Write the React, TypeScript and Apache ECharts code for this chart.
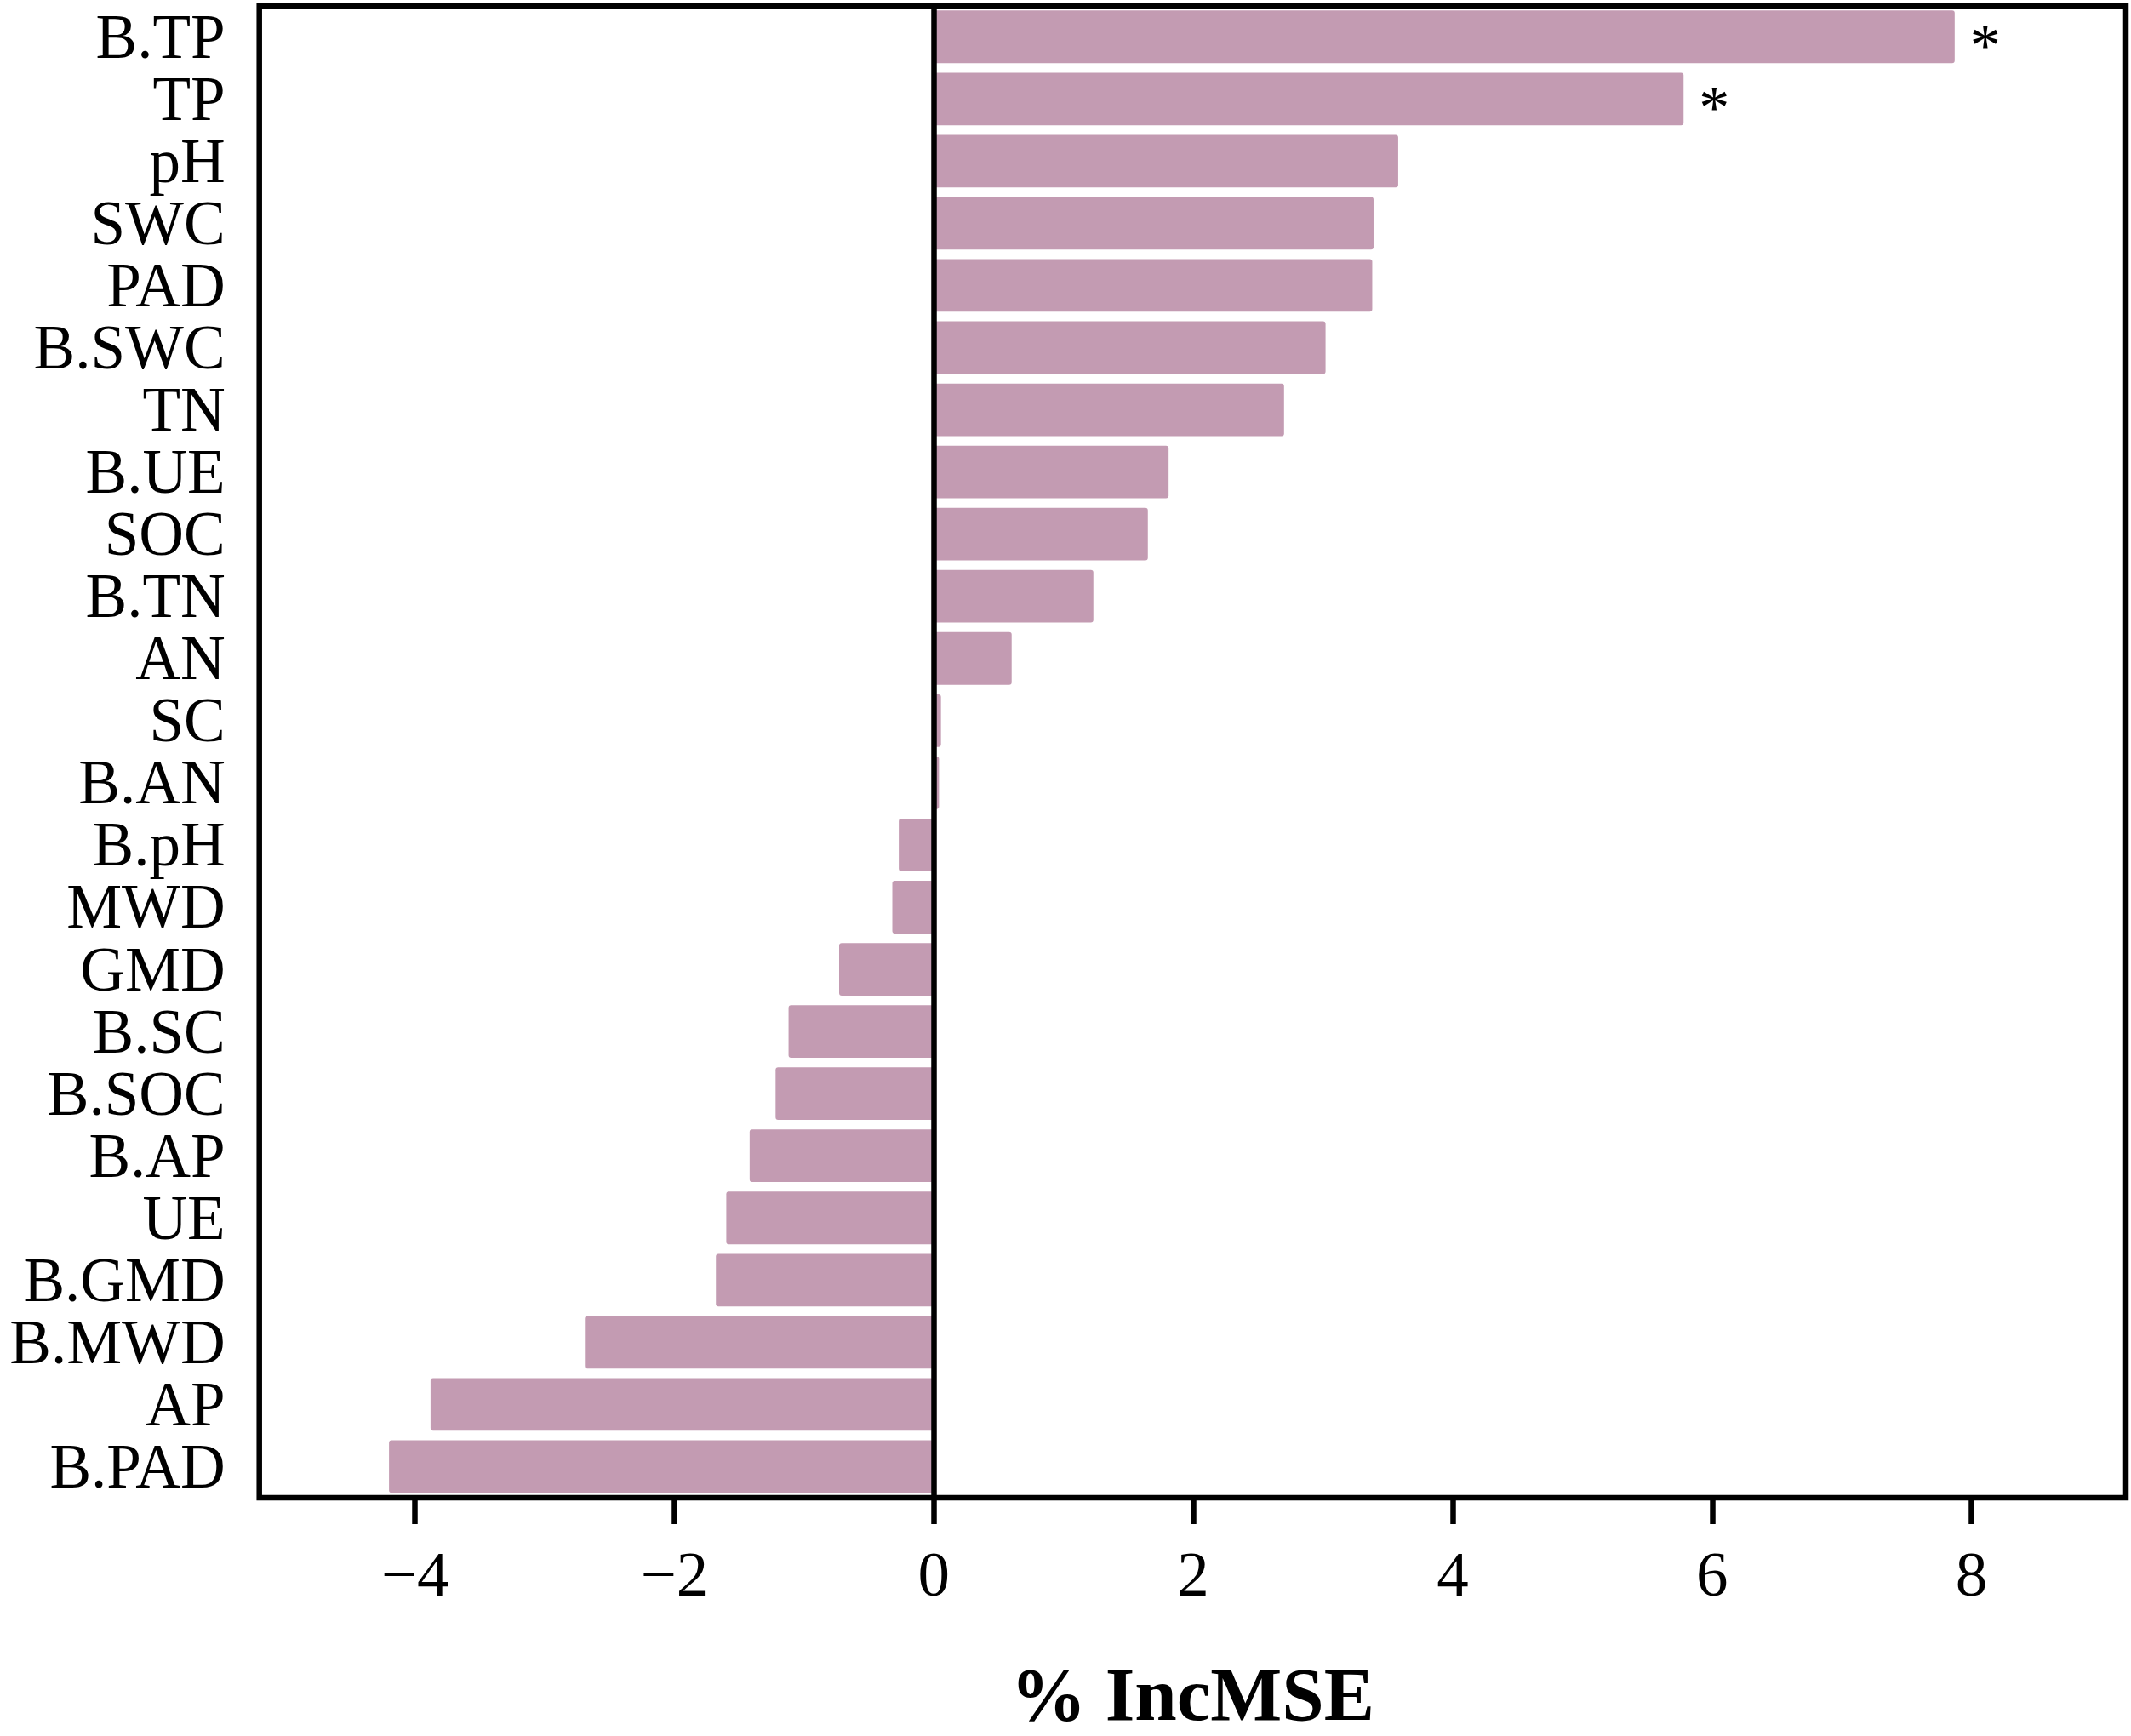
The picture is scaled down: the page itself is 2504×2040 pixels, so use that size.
import React, { useEffect, useRef } from "react";
import * as echarts from "echarts";

const categories = [
  "B.TP", "TP", "pH", "SWC", "PAD", "B.SWC", "TN", "B.UE", "SOC", "B.TN", "AN", "SC",
  "B.AN", "B.pH", "MWD", "GMD", "B.SC", "B.SOC", "B.AP", "UE", "B.GMD", "B.MWD", "AP", "B.PAD",
];
const incMSE = [
  7.87, 5.78, 3.58, 3.39, 3.38, 3.02, 2.70, 1.81, 1.65, 1.23, 0.60, 0.055,
  0.04, -0.27, -0.32, -0.73, -1.12, -1.22, -1.42, -1.60, -1.68, -2.69, -3.88, -4.20,
];
const significant = ["B.TP", "TP"];
const xTicks = [-4, -2, 0, 2, 4, 6, 8];
const xMin = -5.2;
const xMax = 9.19;
const axisTitle = "% IncMSE";

const FONT = "'Liberation Serif', 'Times New Roman', serif";
const BAR_COLOR = "#C39BB2";

export default function App() {
  const ref = useRef<HTMLDivElement>(null);

  useEffect(() => {
    document.body.style.margin = "0";
    const chart = echarts.init(ref.current!, undefined, { renderer: "svg" });
    const data = incMSE.map((v, i) => {
      const item: any = { value: v };
      if (significant.includes(categories[i])) {
        item.label = {
          show: true,
          position: "right",
          formatter: "*",
          distance: 18,
          offset: [0, 10],
          fontFamily: FONT,
          fontSize: 72,
          color: "#000",
        };
      }
      return item;
    });
    chart.setOption({
      animation: false,
      backgroundColor: "#fff",
      grid: {
        left: 304.7,
        top: 6.7,
        width: 2193.3,
        height: 1767.8,
        show: true,
        borderColor: "#000",
        borderWidth: 6.5,
        backgroundColor: "transparent",
        containLabel: false,
      },
      xAxis: {
        type: "value",
        min: xMin,
        max: xMax,
        splitLine: { show: false },
        axisLine: { show: false },
        axisTick: {
          show: true,
          customValues: xTicks,
          length: 31,
          lineStyle: { color: "#000", width: 6.5 },
        },
        axisLabel: {
          customValues: xTicks,
          margin: 52,
          fontFamily: FONT,
          fontSize: 75,
          color: "#000",
          formatter: (v: number) => (v < 0 ? "\u2212" + Math.abs(v) : String(v)),
        },
        name: axisTitle,
        nameLocation: "middle",
        nameGap: 186,
        nameTextStyle: {
          fontFamily: FONT,
          fontSize: 89,
          fontWeight: "bold",
          color: "#000",
        },
      },
      yAxis: {
        type: "category",
        data: categories,
        inverse: true,
        axisLine: { show: false },
        axisTick: { show: false },
        splitLine: { show: false },
        axisLabel: {
          interval: 0,
          margin: 40,
          fontFamily: FONT,
          fontSize: 73,
          color: "#000",
        },
      },
      series: [
        {
          type: "bar",
          data,
          barCategoryGap: "15.4%",
          itemStyle: { color: BAR_COLOR, borderRadius: 3 },
          markLine: {
            silent: true,
            symbol: ["none", "none"],
            label: { show: false },
            lineStyle: { color: "#000", width: 6.5, type: "solid" },
            data: [{ xAxis: 0 }],
          },
        },
      ],
    });
    return () => chart.dispose();
  }, []);

  return (
    <div
      ref={ref}
      style={{ position: "absolute", left: 0, top: 0, width: 2504, height: 2040 }}
    />
  );
}
